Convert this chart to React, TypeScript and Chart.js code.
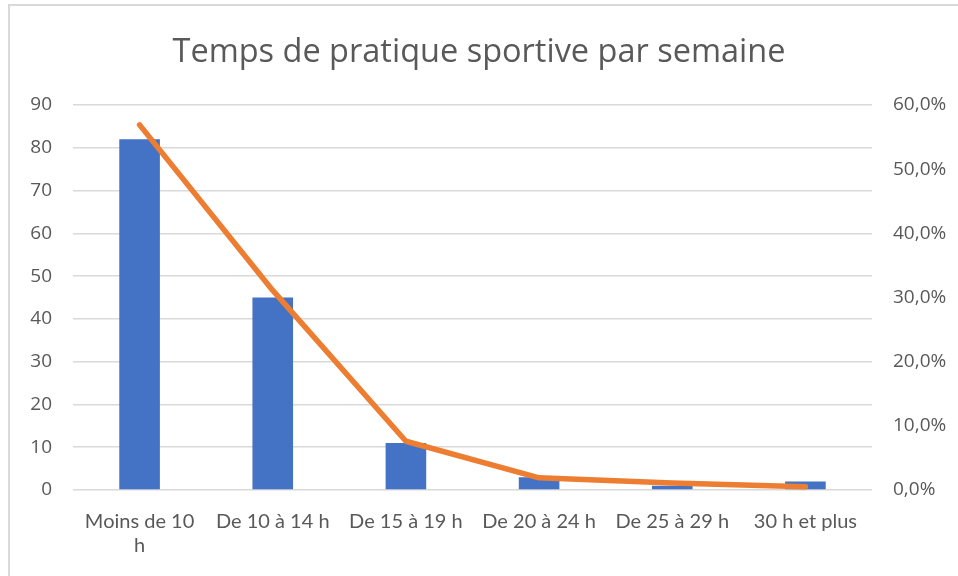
import React, { useEffect, useRef } from "react";
import { Chart, registerables } from "chart.js";

Chart.register(...registerables);

const categories: (string | string[])[] = [
  ["Moins de 10", "h"],
  "De 10 à 14 h",
  "De 15 à 19 h",
  "De 20 à 24 h",
  "De 25 à 29 h",
  "30 h et plus",
];
const counts = [82, 45, 11, 3, 1, 2];
const percentages = [0.569, 0.311, 0.076, 0.019, 0.011, 0.005];
const leftTicks = [0, 10, 20, 30, 40, 50, 60, 70, 80, 90];
const rightTicks = [0, 0.1, 0.2, 0.3, 0.4, 0.5, 0.6];
const titleText = "Temps de pratique sportive par semaine";

export default function App() {
  const ref = useRef<HTMLCanvasElement | null>(null);

  useEffect(() => {
    if (!ref.current) return;
    const chart = new Chart(ref.current, {
      type: "bar",
      data: {
        labels: categories,
        datasets: [
          {
            type: "line",
            data: percentages,
            yAxisID: "y1",
            borderColor: "#ED7D31",
            backgroundColor: "#ED7D31",
            borderWidth: 5.5,
            pointRadius: 0,
            borderCapStyle: "round",
            borderJoinStyle: "round",
            tension: 0,
            order: 0,
          },
          {
            type: "bar",
            data: counts,
            yAxisID: "y",
            backgroundColor: "#4472C4",
            barPercentage: 0.305,
            categoryPercentage: 1,
            order: 1,
          },
        ],
      },
      options: {
        responsive: false,
        animation: false,
        layout: { padding: { left: 0, right: 0, top: 0, bottom: 0 } },
        plugins: {
          legend: { display: false },
          tooltip: { enabled: false },
          title: {
            display: true,
            text: titleText,
            color: "#595959",
            font: { family: "'Open Sans', sans-serif", size: 32.5, weight: "normal" },
            padding: { top: 33, bottom: 33 },
          },
        },
        scales: {
          x: {
            grid: { display: false },
            border: { display: false },
            ticks: {
              color: "#595959",
              font: { family: "Lato, sans-serif", size: 20 },
              padding: 12,
              maxRotation: 0,
              autoSkip: false,
            },
            afterFit: (s: any) => {
              s.height = 86;
            },
          },
          y: {
            position: "left",
            min: 0,
            max: 90,
            afterBuildTicks: (s: any) => {
              s.ticks = leftTicks.map((v) => ({ value: v }));
            },
            grid: { color: "#D9D9D9", lineWidth: 1.5, drawTicks: false },
            border: { display: false },
            ticks: {
              color: "#595959",
              font: { family: "'Open Sans', sans-serif", size: 19 },
              padding: 21,
            },
            afterFit: (s: any) => {
              s.width = 73;
            },
          },
          y1: {
            position: "right",
            min: 0,
            max: 0.6,
            afterBuildTicks: (s: any) => {
              s.ticks = rightTicks.map((v) => ({ value: v }));
            },
            grid: { drawOnChartArea: false, drawTicks: false },
            border: { display: false },
            ticks: {
              color: "#595959",
              font: { family: "'Open Sans', sans-serif", size: 19 },
              padding: 21,
              callback: (v: any) => (Number(v) * 100).toFixed(1).replace(".", ",") + "%",
            },
            afterFit: (s: any) => {
              s.width = 86;
            },
          },
        },
      },
    });
    return () => chart.destroy();
  }, []);

  return (
    <div style={{ position: "fixed", left: 0, top: 0, width: 958, height: 576, background: "#fff" }}>
      <div
        style={{
          position: "absolute",
          left: 8,
          top: 4,
          width: 950,
          height: 572,
          borderTop: "2px solid #D9D9D9",
          borderLeft: "2px solid #D9D9D9",
          boxSizing: "border-box",
        }}
      />
      <canvas ref={ref} width={958} height={576} style={{ position: "absolute", left: 0, top: 0 }} />
    </div>
  );
}
